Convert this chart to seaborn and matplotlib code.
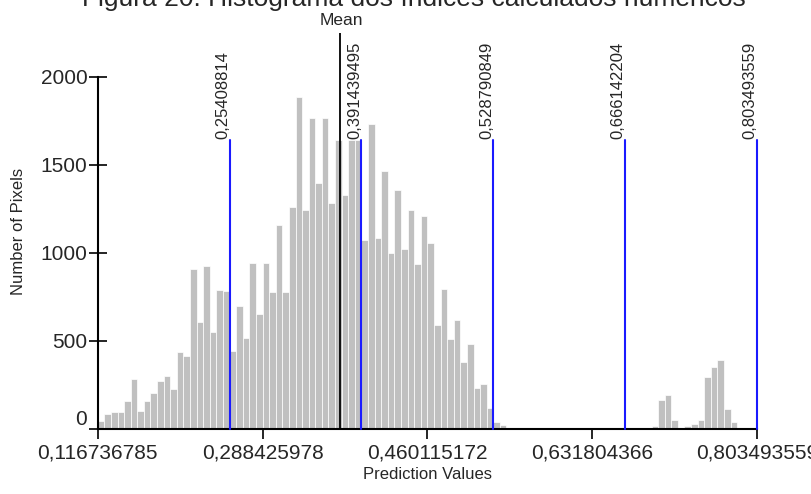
import matplotlib
matplotlib.use("Agg")
import matplotlib.pyplot as plt
import numpy as np
import pandas as pd
import seaborn as sns

# histogram range and counts (100 bins)
value_min = 0.116736785
value_max = 0.803493559
counts = [
    45, 83, 95, 95, 157, 282, 102, 157, 202, 274,
    302, 228, 436, 417, 906, 608, 923, 553, 789, 782,
    444, 697, 517, 942, 652, 942, 780, 1160, 780, 1260,
    1883, 1241, 1764, 1394, 1764, 1284, 1637, 1330, 1637, 1637,
    1075, 1730, 1086, 1466, 1000, 1354, 1019, 1245, 938, 1207,
    1053, 589, 797, 508, 617, 382, 482, 230, 255, 118,
    38, 20, 3, 8, 0, 0, 0, 0, 0, 0,
    0, 0, 0, 0, 0, 0, 0, 0, 0, 0,
    0, 0, 0, 0, 19, 164, 193, 51, 8, 19,
    28, 51, 293, 353, 391, 111, 40, 8, 0, 2,
]

# class breaks (blue lines) and mean
breaks = [0.25408814, 0.391439495, 0.528790849, 0.666142204, 0.803493559]
break_labels = ["0,25408814", "0,391439495", "0,528790849", "0,666142204", "0,803493559"]
mean_value = 0.3689
break_height = 1640

xtick_values = [0.116736785, 0.288425978, 0.460115172, 0.631804366, 0.803493559]
xtick_labels = ["0,116736785", "0,288425978", "0,460115172", "0,631804366", "0,803493559"]
ytick_values = [0, 500, 1000, 1500, 2000]

sns.set_theme(style="ticks")
plt.rcParams["font.family"] = ["Liberation Sans", "DejaVu Sans"]

edges = np.linspace(value_min, value_max, len(counts) + 1)
df = pd.DataFrame({"value": (edges[:-1] + edges[1:]) / 2, "pixels": counts})

fig = plt.figure(figsize=(8.11, 4.94), dpi=100)
ax = fig.add_axes([0.1205, 0.1316, 0.8129, 0.8016])

sns.histplot(data=df, x="value", weights="pixels", bins=list(edges), color="#C0C0C0",
             edgecolor="white", linewidth=0.5, alpha=1, ax=ax)

ax.set_xlim(value_min, value_max)
ax.set_ylim(0, 2247)

# mean line
ax.axvline(mean_value, color="black", linewidth=1.3, zorder=3)
ax.annotate("Mean", xy=(mean_value, 1), xycoords=("data", "axes fraction"),
            xytext=(1, 3.5), textcoords="offset points", ha="center", va="bottom",
            fontsize=12.5, annotation_clip=False)

# class break lines
for b, lab in zip(breaks, break_labels):
    ax.plot([b, b], [0, break_height], color="#1a1aff", linewidth=1.5,
            zorder=3, clip_on=False)
    ax.annotate(lab, xy=(b, break_height), xytext=(0.5, 1), textcoords="offset points",
                rotation=90, ha="right", va="bottom", fontsize=12)

ax.set_xticks(xtick_values)
ax.set_xticklabels(xtick_labels)
ax.set_yticks(ytick_values)
ax.tick_params(axis="x", direction="out", length=7, width=1.2, pad=3.5,
               labelsize=15, color="black")
ax.tick_params(axis="y", direction="inout", length=13, width=1.2, pad=1,
               labelsize=15, color="black")
ax.get_yticklabels()[0].set_va("bottom")

sns.despine(ax=ax)
ax.spines["left"].set_bounds(0, 2000)
for s in ["left", "bottom"]:
    ax.spines[s].set_linewidth(1.5)
    ax.spines[s].set_color("black")

ax.set_xlabel("Prediction Values", fontsize=12)
ax.set_ylabel("Number of Pixels", fontsize=12)
ax.xaxis.set_label_coords(0.5, -0.096)
ax.yaxis.set_label_coords(-0.109, 0.5)

fig.text(0.51, 1 - 6 / 494, "Figura 20: Histograma dos índices calculados numéricos",
         ha="center", va="baseline", fontsize=19)

fig.savefig("out.png", dpi=100)
plt.close(fig)
